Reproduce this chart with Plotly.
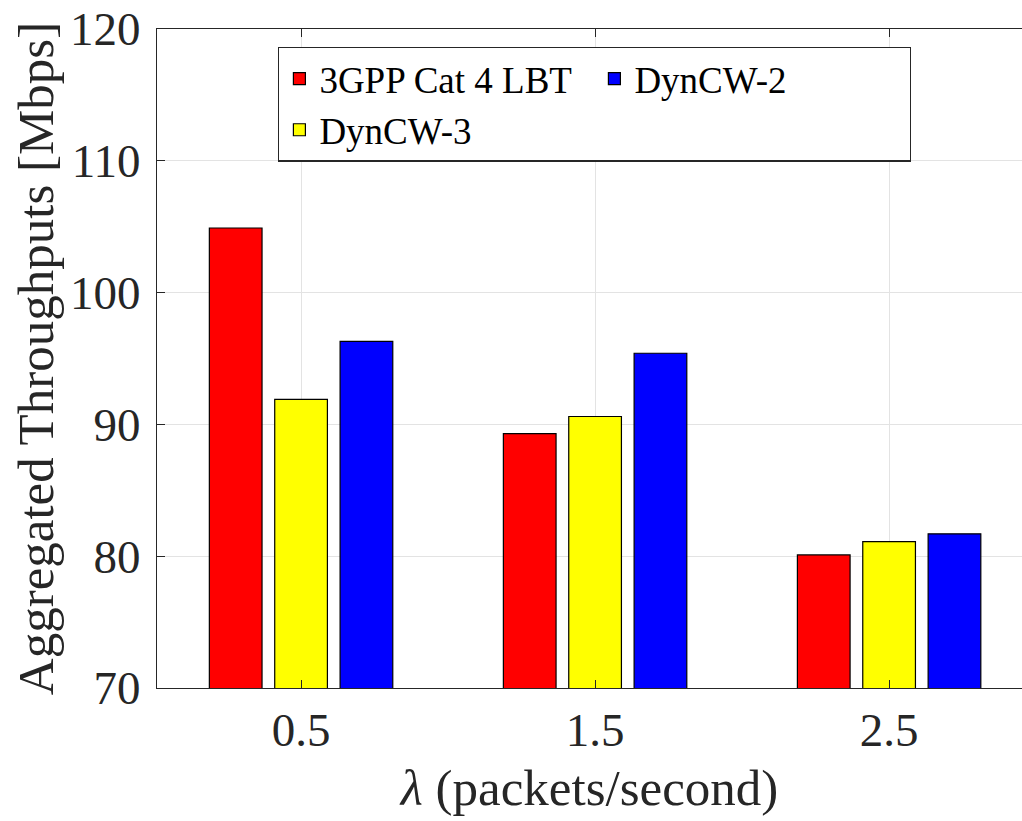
import plotly.graph_objects as go

# Data
lambdas = [0.5, 1.5, 2.5]
series_names = ["3GPP Cat 4 LBT", "DynCW-3", "DynCW-2"]
lbt_vals = [104.9, 89.3, 80.1]
dyncw3_vals = [91.9, 90.6, 81.1]
dyncw2_vals = [96.3, 95.4, 81.7]
y_ticks = [70, 80, 90, 100, 110, 120]
x_tick_labels = ["0.5", "1.5", "2.5"]

series_vals = [lbt_vals, dyncw3_vals, dyncw2_vals]
colors = ["#ff0000", "#ffff00", "#0000ff"]
ranks = [1, 3, 2]

FONT = "Liberation Serif"
AX = "#262626"

fig = go.Figure()
for name, vals, c, r in zip(series_names, series_vals, colors, ranks):
    fig.add_trace(go.Bar(
        x=lambdas, y=vals, name=name, legendrank=r,
        marker=dict(color=c, line=dict(color="#000000", width=1.2)),
    ))

fig.update_layout(
    width=1022, height=821,
    margin=dict(l=157, r=0, t=29, b=133, autoexpand=False),
    paper_bgcolor="white", plot_bgcolor="white",
    barmode="group", bargap=0.333, bargroupgap=0.194,
    font=dict(family=FONT, color=AX),
    showlegend=True,
    legend=dict(
        orientation="h", x=0.14, y=0.973, xanchor="left", yanchor="top",
        bgcolor="white", bordercolor=AX, borderwidth=1.3,
        font=dict(family=FONT, size=37, color="#000000"),
        itemwidth=30, traceorder="normal", entrywidth=270,
    ),
    xaxis=dict(
        range=[0.01, 2.952], tickvals=lambdas, ticktext=x_tick_labels,
        ticks="inside", ticklen=8, tickcolor=AX, tickwidth=1,
        showline=True, linecolor=AX, linewidth=1.3, mirror="ticks",
        showgrid=True, gridcolor="#e3e3e3", gridwidth=1,
        zeroline=False, automargin=False,
        tickfont=dict(family=FONT, size=47, color=AX),
        title=dict(text="<i>λ</i> (packets/second)", standoff=14,
                   font=dict(family=FONT, size=51, color=AX)),
    ),
    yaxis=dict(
        range=[70, 120], tickvals=y_ticks,
        ticks="inside", ticklen=8, tickcolor=AX, tickwidth=1,
        showline=True, linecolor=AX, linewidth=1.3, mirror=False,
        showgrid=True, gridcolor="#e3e3e3", gridwidth=1,
        zeroline=False, automargin=False, ticklabelstandoff=6,
        tickfont=dict(family=FONT, size=47, color=AX),
        title=dict(text="Aggregated Throughputs [Mbps]", standoff=0,
                   font=dict(family=FONT, size=51, color=AX)),
    ),
)

fig.write_html("out.html", config={"displayModeBar": False},
               post_script="document.body.style.margin='0';")
